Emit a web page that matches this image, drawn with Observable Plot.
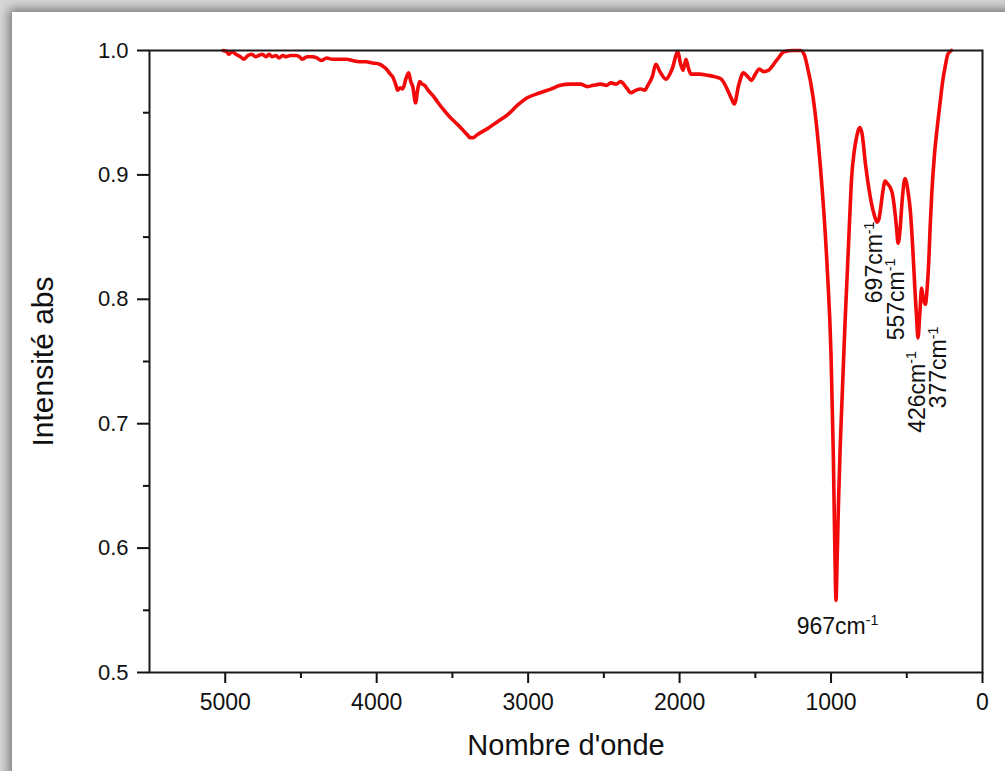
<!DOCTYPE html>
<html>
<head>
<meta charset="utf-8">
<script src="https://cdn.jsdelivr.net/npm/d3@7"></script>
<script src="https://cdn.jsdelivr.net/npm/@observablehq/plot@0.6"></script>
<style>
  html, body { margin: 0; padding: 0; }
  body { width: 1005px; height: 771px; overflow: hidden; position: relative; background: #d6d6d6; }
  #card { position: absolute; left: 12px; top: 12px; width: 1020px; height: 790px; background: #fff;
          box-shadow: 0 0 10px 3px rgba(0,0,0,0.45); }
  #chart { position: absolute; left: 0; top: 0; }
</style>
</head>
<body>
<div id="card"></div>
<div id="chart"></div>
<script>
// Wavenumber (cm-1) and absorbance
const wavenumber = [
  5015, 4990, 4977, 4955, 4930, 4900, 4877, 4850, 4824, 4800,
  4778, 4755, 4731, 4710, 4691, 4665, 4645, 4620, 4599, 4570,
  4532, 4510, 4492, 4460, 4426, 4395, 4366, 4330, 4293, 4250,
  4200, 4160, 4114, 4070, 4028, 3981, 3955, 3935, 3910, 3895,
  3870, 3862, 3845, 3829, 3805, 3789, 3775, 3762, 3743, 3730,
  3716, 3700, 3683, 3660, 3630, 3600, 3563, 3520, 3470, 3430,
  3400, 3384, 3360, 3340, 3271, 3200, 3139, 3070, 3006, 2920,
  2850, 2787, 2720, 2654, 2608, 2570, 2522, 2480, 2455, 2420,
  2389, 2350, 2322, 2290, 2256, 2230, 2210, 2180, 2157, 2130,
  2090, 2050, 2011, 1995, 1977, 1958, 1940, 1924, 1870, 1812,
  1770, 1725, 1690, 1660, 1639, 1610, 1579, 1550, 1526, 1500,
  1473, 1445, 1414, 1360, 1310, 1250, 1200, 1175, 1160, 1118,
  1072, 1027, 1000, 985, 975, 967, 960, 950, 940, 925,
  908, 890, 877, 865, 848, 832, 820, 810, 795, 773,
  755, 733, 715, 697, 685, 675, 660, 643, 628, 610,
  595, 580, 568, 557, 545, 530, 512, 500, 490, 477,
  460, 445, 435, 426, 414, 402, 392, 377, 368, 355,
  345, 335, 318, 300, 280, 262, 245, 229, 205
];
const absorbance = [
  1.000, 0.999, 0.997, 0.999, 0.997, 0.995, 0.993, 0.996, 0.997, 0.995,
  0.996, 0.997, 0.995, 0.997, 0.995, 0.996, 0.994, 0.996, 0.995, 0.996,
  0.996, 0.995, 0.993, 0.995, 0.995, 0.994, 0.992, 0.994, 0.993, 0.993,
  0.993, 0.992, 0.991, 0.991, 0.990, 0.989, 0.987, 0.985, 0.981, 0.979,
  0.971, 0.968, 0.970, 0.969, 0.978, 0.982, 0.975, 0.971, 0.958, 0.968,
  0.975, 0.973, 0.972, 0.968, 0.964, 0.959, 0.953, 0.947, 0.941, 0.936,
  0.932, 0.930, 0.930, 0.932, 0.937, 0.943, 0.948, 0.956, 0.962, 0.966,
  0.969, 0.972, 0.973, 0.973, 0.971, 0.972, 0.973, 0.972, 0.974, 0.973,
  0.975, 0.970, 0.966, 0.968, 0.969, 0.968, 0.972, 0.979, 0.989, 0.983,
  0.977, 0.985, 0.999, 0.990, 0.984, 0.993, 0.985, 0.981, 0.981, 0.980,
  0.979, 0.977, 0.970, 0.962, 0.957, 0.972, 0.982, 0.979, 0.976, 0.981,
  0.985, 0.983, 0.984, 0.992, 0.999, 1.000, 1.000, 0.996, 0.989, 0.962,
  0.909, 0.829, 0.755, 0.675, 0.600, 0.558, 0.590, 0.640, 0.680, 0.727,
  0.780, 0.829, 0.865, 0.896, 0.918, 0.930, 0.936, 0.938, 0.933, 0.909,
  0.893, 0.877, 0.868, 0.862, 0.864, 0.871, 0.885, 0.895, 0.893, 0.890,
  0.885, 0.872, 0.858, 0.845, 0.855, 0.880, 0.897, 0.893, 0.885, 0.872,
  0.840, 0.805, 0.785, 0.769, 0.788, 0.809, 0.801, 0.796, 0.805, 0.830,
  0.860, 0.885, 0.915, 0.937, 0.958, 0.976, 0.988, 0.997, 1.000
];

// Peak annotations
const peakLabels = ["967", "697", "557", "426", "377"];
const peakWavenumber = [967, 697, 557, 426, 377];
const peakAbsorbance = [0.558, 0.862, 0.845, 0.769, 0.796];

// Axis ticks
const xMajorTicks = [0, 1000, 2000, 3000, 4000, 5000];
const xMinorTicks = [500, 1500, 2500, 3500, 4500];
const yMajorTicks = [0.5, 0.6, 0.7, 0.8, 0.9, 1.0];
const yMinorTicks = [0.55, 0.65, 0.75, 0.85, 0.95];
const xTitle = "Nombre d'onde";
const yTitle = "Intensité abs";

const spectrum = wavenumber.map((w, i) => ({w, a: absorbance[i]}));
const peaks = peakLabels.map((t, i) => ({label: t + "cm^-1", w: peakWavenumber[i], a: peakAbsorbance[i]}));

const peakMark = (i, opts) => Plot.text([peaks[i]], {
  x: "w", y: "a", text: "label", fontSize: 23, fill: "#111", ...opts
});

const chart = Plot.plot({
  width: 1005,
  height: 771,
  marginLeft: 149,
  marginRight: 23,
  marginTop: 50,
  marginBottom: 99,
  style: {background: "transparent", fontFamily: "'Liberation Sans', Arial, sans-serif", color: "#111", overflow: "visible"},
  x: {domain: [5500, 0]},
  y: {domain: [0.5, 1.0]},
  marks: [
    Plot.axisX({ticks: xMinorTicks, tickSize: 6, tickFormat: () => "", strokeWidth: 2, label: null}),
    Plot.axisX({ticks: xMajorTicks, tickSize: 11, tickPadding: 10, fontSize: 23, strokeWidth: 2, tickFormat: d3.format("d"), label: null}),
    Plot.axisY({ticks: yMinorTicks, tickSize: 6, tickFormat: () => "", strokeWidth: 2, label: null}),
    Plot.axisY({ticks: yMajorTicks, tickSize: 12, tickPadding: 9, fontSize: 22, strokeWidth: 2, tickFormat: d3.format(".1f"), label: null}),
    Plot.line(spectrum, {x: "w", y: "a", stroke: "#f20a0a", strokeWidth: 3.6, strokeLinejoin: "round", curve: "monotone-x"}),
    Plot.frame({stroke: "#1a1a1a", strokeWidth: 2}),
    peakMark(0, {dx: 1.5, dy: 26}),
    peakMark(1, {rotate: -90, textAnchor: "start", dx: -2, dy: 81}),
    peakMark(2, {rotate: -90, textAnchor: "start", dx: -2, dy: 97}),
    peakMark(3, {rotate: -90, textAnchor: "start", dx: -0.5, dy: 95}),
    peakMark(4, {rotate: -90, textAnchor: "start", dx: 13.5, dy: 104}),
    Plot.text([xTitle], {text: d => d, frameAnchor: "bottom", textAnchor: "middle", lineAnchor: "middle", dy: 73, fontSize: 29, fill: "#111"}),
    Plot.text([yTitle], {text: d => d, frameAnchor: "left", textAnchor: "middle", lineAnchor: "middle", rotate: -90, dx: -106, fontSize: 30, fill: "#111"})
  ]
});

// superscript "-1" on the peak labels
chart.querySelectorAll("text").forEach(el => {
  const s = el.textContent;
  const k = s.indexOf("^");
  if (k < 0 || el.children.length) return;
  el.textContent = s.slice(0, k);
  const sup = document.createElementNS("http://www.w3.org/2000/svg", "tspan");
  sup.setAttribute("dy", "-0.6em");
  sup.setAttribute("font-size", "0.62em");
  sup.textContent = s.slice(k + 1);
  el.appendChild(sup);
});

document.getElementById("chart").appendChild(chart);
</script>
</body>
</html>
